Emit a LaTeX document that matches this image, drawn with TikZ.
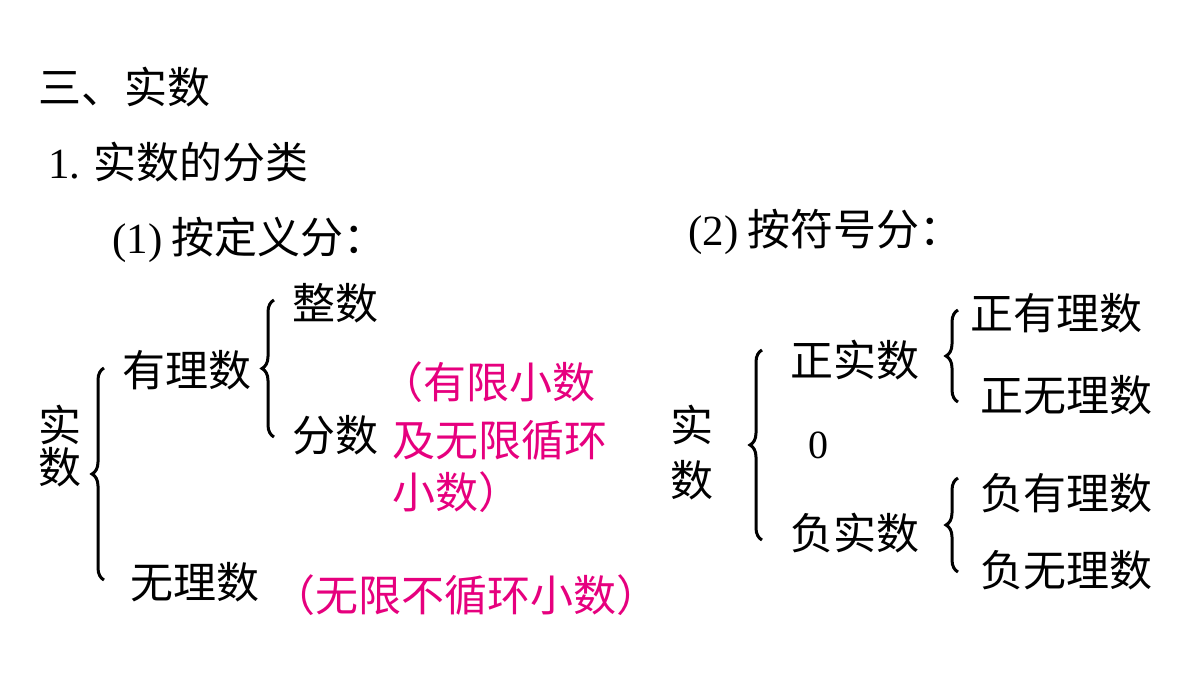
\documentclass[tikz,border=0pt]{standalone}
\usepackage{fontspec}
\setmainfont{Liberation Serif}
\newfontfamily\cjk{Noto Sans CJK SC}
\usetikzlibrary{decorations.pathreplacing}
\definecolor{pk}{HTML}{E6007E}
\begin{document}
\begin{tikzpicture}[x=1pt,y=-1pt,
  t/.style={anchor=west,inner sep=0pt,font=\fontsize{43}{46}\selectfont\cjk},
  pt/.style={t,text=pk},
  br/.style={decorate,decoration={brace,amplitude=12pt},line width=3pt}]
\useasboundingbox (0,0) rectangle (1200,675);
\node[t] (h1) at (38,87) {三、实数};
\node[t] (h2) at (48,162) {{\rmfamily 1.} 实数的分类};
\node[t] (h3) at (112,240) {{\rmfamily (1)} 按定义分：};
\node[t] (h4) at (688,232) {{\rmfamily (2)} 按符号分：};
% left tree
\node[t] (s1) at (38,425) {实};
\node[t] (s2) at (38,467) {数};
\coordinate (b1t) at (104,368); \coordinate (b1b) at (104,580);
\draw[br] (b1b) -- (b1t);
\node[t] (yl) at (122,370) {有理数};
\coordinate (b2t) at (274,300); \coordinate (b2b) at (274,437);
\draw[br] (b2b) -- (b2t);
\node[t] (zs) at (292,303) {整数};
\node[t] (fs) at (292,435) {分数};
\node[pt] (p1) at (380,382) {（有限小数};
\node[pt] (p2) at (392,440) {及无限循环};
\node[pt] (p3) at (392,492) {小数）};
\node[t] (wl) at (130,582) {无理数};
\node[pt] (p4) at (272,595) {（无限不循环小数）};
% right tree
\node[t] (r1) at (670,425) {实};
\node[t] (r2) at (670,480) {数};
\coordinate (b3t) at (762,350); \coordinate (b3b) at (762,540);
\draw[br] (b3b) -- (b3t);
\node[t] (zss) at (790,360) {正实数};
\node[t,font=\fontsize{40}{44}\selectfont\rmfamily] (zero) at (808,445) {0};
\node[t] (fss) at (790,533) {负实数};
\coordinate (b4t) at (958,310); \coordinate (b4b) at (958,402);
\draw[br] (b4b) -- (b4t);
\node[t] (a1) at (970,313) {正有理数};
\node[t] (a2) at (980,395) {正无理数};
\coordinate (b5t) at (958,478); \coordinate (b5b) at (958,572);
\draw[br] (b5b) -- (b5t);
\node[t] (a3) at (980,493) {负有理数};
\node[t] (a4) at (980,570) {负无理数};
\end{tikzpicture}
\end{document}
